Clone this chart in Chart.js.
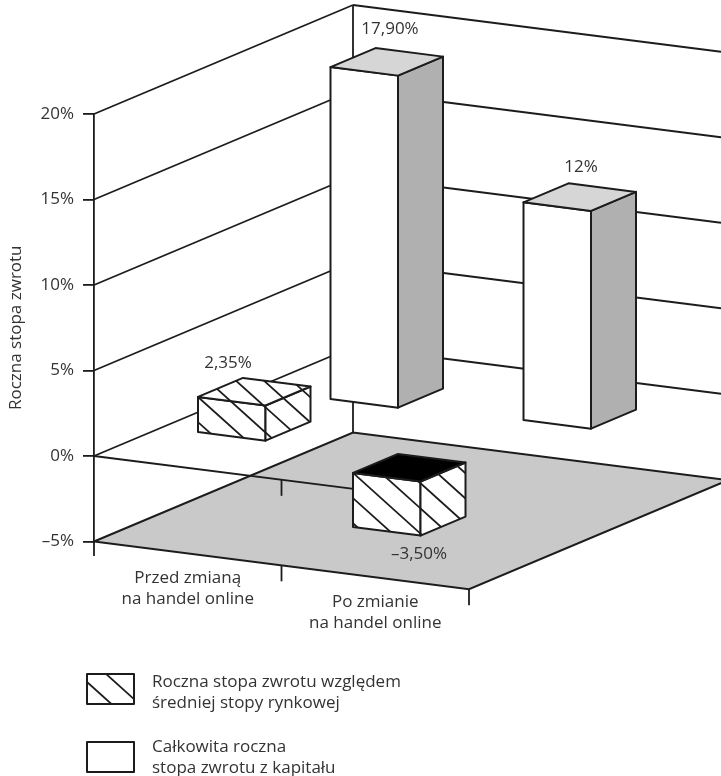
<!DOCTYPE html>
<html>
<head>
<meta charset="utf-8">
<style>
  html, body { margin: 0; padding: 0; background: #fff; }
  #wrap { width: 721px; height: 776px; }
</style>
<script src="https://cdn.jsdelivr.net/npm/chart.js@4"></script>
</head>
<body>
<div id="wrap"><canvas id="chart"></canvas></div>
<script>
const categories = [['Przed zmianą', 'na handel online'], ['Po zmianie', 'na handel online']];
const relativeReturn = [2.35, -3.5];
const totalReturn = [17.9, 12];
const relativeLabels = ['2,35%', '–3,50%'];
const totalLabels = ['17,90%', '12%'];
const yTitle = 'Roczna stopa zwrotu';
const legendRelative = ['Roczna stopa zwrotu względem', 'średniej stopy rynkowej'];
const legendTotal = ['Całkowita roczna', 'stopa zwrotu z kapitału'];

const INK = '#1c1c1c';
const TEXT = '#333';
const FONT = '"Open Sans", sans-serif';
const FONT_SIZE = 17;
const SLOPE = 0.127;                 // fall of the front edge per px
const WALL = { dx: 259, dy: -109 };  // floor depth
const BOX = { dx: 45, dy: -19 };     // bar depth

// how each bar sits in the drawing, relative to its flat position
const relativeLook = { k: [0.895, 0.918], shift: [[44, -23], [11.5, 16]], label: [[30, -34], [66, 81]] };
const totalLook = { k: [1.088, 1.066], shift: [[176.5, -56], [182, -35]], label: [[59.5, -38], [57.5, -35]] };

function poly(ctx, pts) {
  ctx.beginPath();
  pts.forEach((p, i) => i ? ctx.lineTo(p[0], p[1]) : ctx.moveTo(p[0], p[1]));
  ctx.closePath();
}

function seg(ctx, x1, y1, x2, y2) {
  ctx.beginPath();
  ctx.moveTo(x1, y1);
  ctx.lineTo(x2, y2);
  ctx.stroke();
}

function hatch(ctx, pts, ox, oy) {
  ctx.save();
  poly(ctx, pts);
  ctx.clip();
  ctx.lineWidth = 1.8;
  ctx.strokeStyle = INK;
  for (let k = -30; k <= 30; k++) {
    const c = ox + k * 28;
    seg(ctx, c - 500, oy - 450, c + 500, oy + 450);
  }
  ctx.restore();
}

function drawBar(ctx, el, look, i, hatched) {
  const h = (el.base - el.y) * look.k[i];
  const w = el.width;
  const sl = w * SLOPE;
  const L = el.x - w / 2 + look.shift[i][0];
  const y0 = el.base + look.shift[i][1];
  const yt = h >= 0 ? y0 - h : y0;
  const yb = h >= 0 ? y0 : y0 - h;
  const front = [[L, yt], [L + w, yt + sl], [L + w, yb + sl], [L, yb]];
  const side = [[L + w, yt + sl], [L + w + BOX.dx, yt + sl + BOX.dy], [L + w + BOX.dx, yb + sl + BOX.dy], [L + w, yb + sl]];
  const top = [[L, yt], [L + BOX.dx, yt + BOX.dy], [L + w + BOX.dx, yt + sl + BOX.dy], [L + w, yt + sl]];
  ctx.strokeStyle = INK;
  ctx.lineWidth = 2;
  ctx.lineJoin = 'round';
  [[front, '#fff'], [side, hatched ? '#fff' : '#b0b0b0'], [top, hatched ? (h < 0 ? '#000' : '#fff') : '#d6d6d6']].forEach(f => {
    poly(ctx, f[0]);
    ctx.fillStyle = f[1];
    ctx.fill();
    if (hatched && !(f[0] === top && h < 0)) hatch(ctx, f[0], L, yt);
    poly(ctx, f[0]);
    ctx.stroke();
  });
  return { L, yt };
}

const scene = {
  id: 'scene',
  beforeDatasetsDraw(chart) {
    const { ctx, scales: { x, y } } = chart;
    const x0 = x.left;
    const bx = x0 + WALL.dx;
    ctx.save();
    ctx.strokeStyle = INK;
    ctx.lineWidth = 1.8;
    // walls
    y.ticks.forEach(t => {
      if (t.value < 0) return;
      const py = y.getPixelForValue(t.value);
      const by = py + WALL.dy;
      seg(ctx, x0, py, bx, by);
      seg(ctx, bx, by, chart.width, by + (chart.width - bx) * SLOPE);
    });
    const fy = y.getPixelForValue(y.min);
    seg(ctx, bx, y.getPixelForValue(y.max) + WALL.dy, bx, fy + WALL.dy);
    // floor
    const fr = (x.right - x0) * SLOPE;
    poly(ctx, [[x0, fy], [bx, fy + WALL.dy], [x.right + WALL.dx, fy + fr + WALL.dy], [x.right, fy + fr]]);
    ctx.fillStyle = '#c9c9c9';
    ctx.fill();
    ctx.lineWidth = 2;
    ctx.stroke();
    // zero line runs in behind the second hatched bar, axis ticks
    ctx.lineWidth = 1.8;
    const zy = y.getPixelForValue(0);
    const zx = x.getPixelForValue(1);
    seg(ctx, x0, zy, zx, zy + (zx - x0) * SLOPE);
    const mid = (x.getPixelForValue(0) + zx) / 2;
    const ms = (mid - x0) * SLOPE;
    seg(ctx, mid, zy + ms, mid, zy + ms + 16);
    seg(ctx, mid, fy + ms, mid, fy + ms + 16);
    seg(ctx, x.right, fy + fr, x.right, fy + fr + 16);
    seg(ctx, x0, fy, x0, fy + 14.5);
    // category labels follow the sloping front edge
    ctx.fillStyle = TEXT;
    ctx.font = FONT_SIZE + 'px ' + FONT;
    ctx.textAlign = 'center';
    ctx.textBaseline = 'middle';
    categories.forEach((lines, i) => {
      const cx = x.getPixelForValue(i);
      const ly = fy + (cx - x0) * SLOPE + 25;
      lines.forEach((s, j) => ctx.fillText(s, cx, ly + j * 21));
    });
    ctx.restore();
  },
  afterDatasetsDraw(chart) {
    const { ctx } = chart;
    const looks = [totalLook, relativeLook];
    const texts = [totalLabels, relativeLabels];
    ctx.save();
    looks.forEach((look, d) => {
      chart.getDatasetMeta(d).data.forEach((el, i) => {
        const at = drawBar(ctx, el, look, i, d === 1);
        ctx.fillStyle = TEXT;
        ctx.font = FONT_SIZE + 'px ' + FONT;
        ctx.textAlign = 'center';
        ctx.textBaseline = 'middle';
        ctx.fillText(texts[d][i], at.L + look.label[i][0], at.yt + look.label[i][1]);
      });
    });
    // legend
    ctx.strokeStyle = INK;
    ctx.lineWidth = 2;
    const box1 = [[87, 674], [134, 674], [134, 704], [87, 704]];
    const box2 = [[87, 742], [134, 742], [134, 772], [87, 772]];
    poly(ctx, box1);
    ctx.fillStyle = '#fff';
    ctx.fill();
    hatch(ctx, box1, 87, 682);
    poly(ctx, box1);
    ctx.stroke();
    poly(ctx, box2);
    ctx.stroke();
    ctx.fillStyle = TEXT;
    ctx.font = FONT_SIZE + 'px ' + FONT;
    ctx.textAlign = 'left';
    ctx.textBaseline = 'middle';
    legendRelative.forEach((s, j) => ctx.fillText(s, 152, 682 + j * 21));
    legendTotal.forEach((s, j) => ctx.fillText(s, 152, 747 + j * 21));
    ctx.restore();
  }
};

new Chart(document.getElementById('chart'), {
  type: 'bar',
  plugins: [scene],
  data: {
    labels: categories,
    datasets: [
      { label: legendTotal.join(' '), data: totalReturn, backgroundColor: 'rgba(0,0,0,0)' },
      { label: legendRelative.join(' '), data: relativeReturn, backgroundColor: 'rgba(0,0,0,0)' }
    ]
  },
  options: {
    responsive: true,
    maintainAspectRatio: false,
    animation: false,
    events: [],
    layout: { padding: { top: 114, right: 252, left: 0, bottom: 0 } },
    datasets: { bar: { grouped: false, barPercentage: 0.36, categoryPercentage: 1 } },
    plugins: { legend: { display: false }, tooltip: { enabled: false } },
    scales: {
      x: {
        grid: { display: false },
        border: { display: false },
        ticks: { display: false },
        afterFit(scale) { scale.height = 234.5; }
      },
      y: {
        min: -5,
        max: 20,
        afterFit(scale) { scale.width = 94; },
        grid: { drawOnChartArea: false, drawTicks: true, tickLength: 11, color: INK, lineWidth: 1.8 },
        border: { display: true, color: INK, width: 1.8 },
        ticks: {
          stepSize: 5,
          padding: 9,
          color: TEXT,
          font: { family: FONT, size: FONT_SIZE },
          callback: v => (v < 0 ? '–' + Math.abs(v) : v) + '%'
        },
        title: {
          display: true,
          text: yTitle,
          color: TEXT,
          font: { family: FONT, size: FONT_SIZE },
          padding: { top: 6, bottom: 0 }
        }
      }
    }
  }
});
</script>
</body>
</html>
